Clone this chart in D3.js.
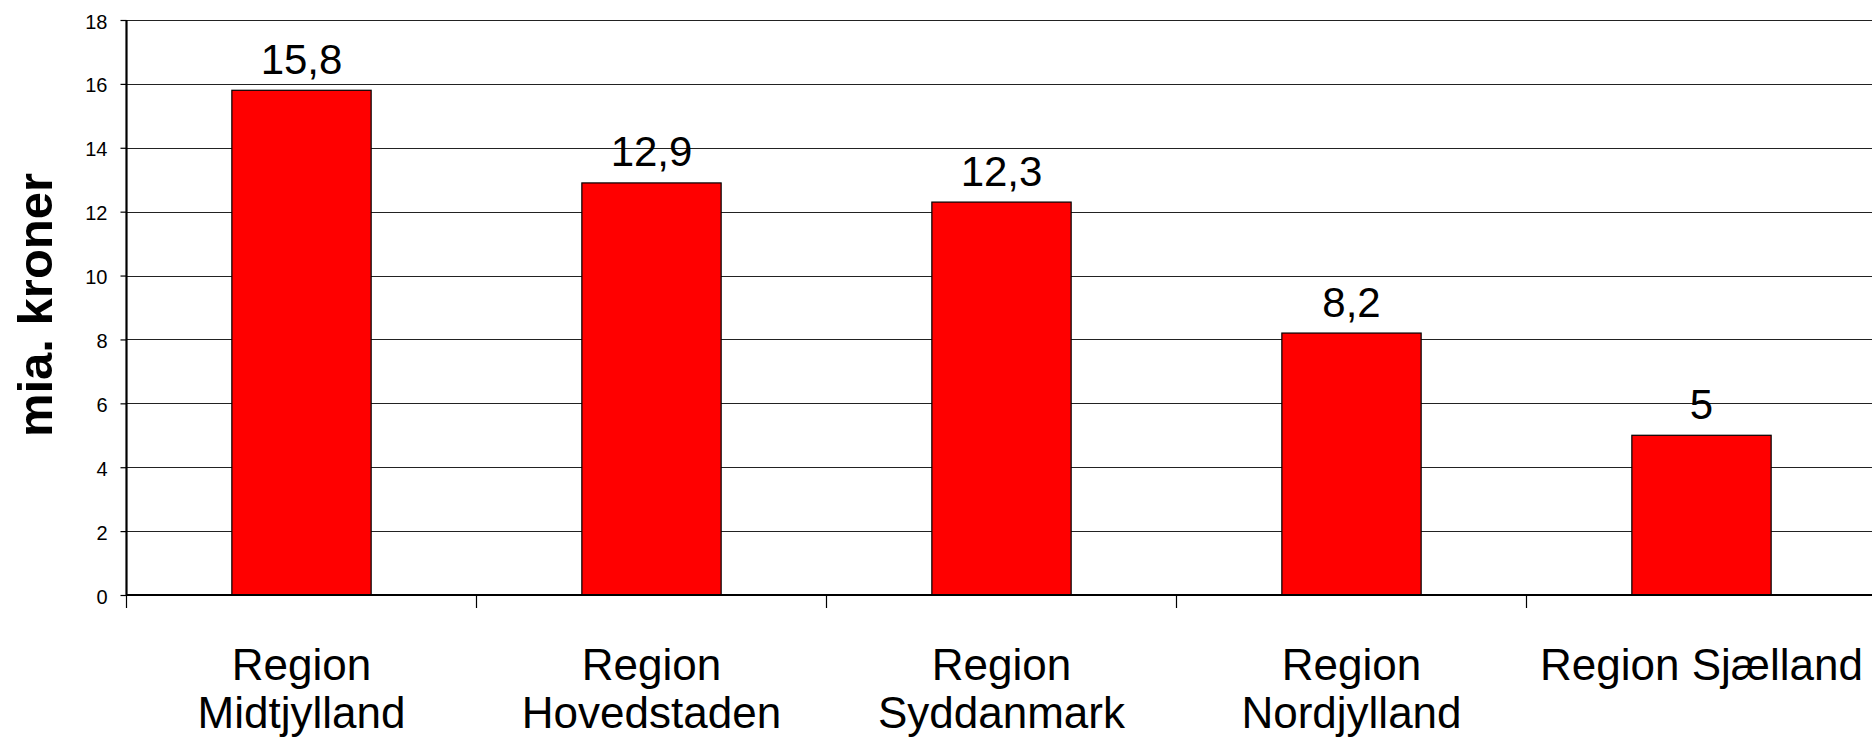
<!DOCTYPE html>
<html><head><meta charset="utf-8">
<script src="https://cdn.jsdelivr.net/npm/d3@7"></script>
<style>
html,body{margin:0;padding:0;background:#fff;overflow:hidden}
svg{display:block}
text{font-family:"Liberation Sans",Arial,Helvetica,sans-serif;fill:#000}
</style></head><body>
<svg id="chart" width="1872" height="737"></svg>
<script>
const categories = [["Region","Midtjylland"],["Region","Hovedstaden"],["Region","Syddanmark"],["Region","Nordjylland"],["Region Sjælland"]];
const values = [15.8, 12.9, 12.3, 8.2, 5];
const valueLabels = ["15,8","12,9","12,3","8,2","5"];
const yTicks = [0,2,4,6,8,10,12,14,16,18];
const yTitle = "mia. kroner";

(function(){
const svg = d3.select("#chart");
const pLeft = 126.5, pRight = 1876.5, pTop = 20, pBottom = 595;
const keys = categories.map((c,i)=>i);
const x = d3.scaleBand().domain(keys).range([pLeft,pRight]).padding(0);
const y = d3.scaleLinear().domain([0,18]).range([pBottom,pTop]);
const barW = x.bandwidth()*0.398;

// gridlines
svg.append("g").selectAll("line").data(yTicks.filter(t=>t>0)).join("line")
  .attr("x1",pLeft).attr("x2",1872)
  .attr("y1",d=>Math.round(y(d))+0.5).attr("y2",d=>Math.round(y(d))+0.5)
  .attr("stroke","#222").attr("stroke-width",1.2);

// bars
svg.append("g").selectAll("rect").data(values).join("rect")
  .attr("x",(d,i)=>x(i)+x.bandwidth()/2-barW/2)
  .attr("width",barW)
  .attr("y",d=>y(d))
  .attr("height",d=>pBottom-y(d))
  .attr("fill","#ff0000").attr("stroke","#000").attr("stroke-width",1.2);

// y axis
const yAxis = d3.axisLeft(y).tickValues(yTicks).tickSize(6).tickPadding(13).tickFormat(d3.format("d"));
const gy = svg.append("g").attr("transform",`translate(${pLeft},0)`).call(yAxis);
gy.select(".domain").attr("stroke","#000").attr("stroke-width",2.2).attr("d",`M0,${pTop}V${pBottom}`);
gy.selectAll(".tick line").attr("stroke","#000").attr("stroke-width",1.2);
gy.selectAll(".tick text").style("font-size","20px").attr("dy","0.4em").style("font-family","'Liberation Sans',Arial,sans-serif");

// x axis
const xTickPos = d3.range(categories.length+1).map(i=>pLeft+i*x.step());
const gx = svg.append("g");
gx.append("line").attr("x1",pLeft).attr("x2",1872).attr("y1",pBottom).attr("y2",pBottom)
  .attr("stroke","#000").attr("stroke-width",2.2);
gx.selectAll("line.t").data(xTickPos).join("line").attr("class","t")
  .attr("x1",d=>d).attr("x2",d=>d).attr("y1",pBottom).attr("y2",pBottom+13)
  .attr("stroke","#000").attr("stroke-width",1.2);

// category labels
const cl = svg.append("g").selectAll("text").data(categories).join("text")
  .attr("x",(d,i)=>x(i)+x.bandwidth()/2)
  .attr("y",680)
  .attr("text-anchor","middle")
  .style("font-size","44px");
cl.selectAll("tspan").data(d=>d).join("tspan")
  .attr("x",function(){return d3.select(this.parentNode).attr("x");})
  .attr("dy",(d,i)=>i===0?0:48)
  .text(d=>d);

// value labels
svg.append("g").selectAll("text").data(values).join("text")
  .attr("x",(d,i)=>x(i)+x.bandwidth()/2)
  .attr("y",d=>y(d)-16.5)
  .attr("text-anchor","middle")
  .style("font-size","42px")
  .text((d,i)=>valueLabels[i]);

// y title
svg.append("text")
  .attr("transform","translate(52,305) rotate(-90)")
  .attr("text-anchor","middle")
  .style("font-size","49px").style("font-weight","bold")
  .text(yTitle);
})();
</script>
</body></html>
